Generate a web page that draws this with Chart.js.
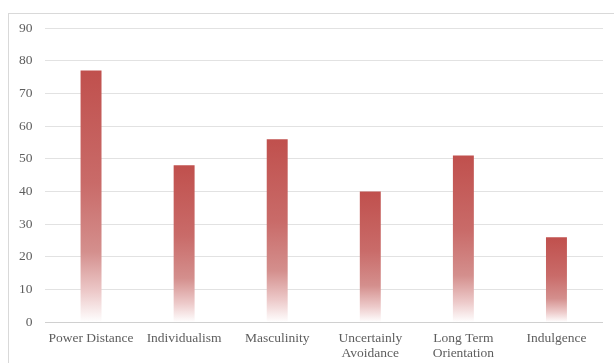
<!DOCTYPE html>
<html>
<head>
<meta charset="utf-8">
<script src="https://cdn.jsdelivr.net/npm/chart.js@4/dist/chart.umd.min.js"></script>
<style>
  html, body { margin: 0; padding: 0; background: #fff; overflow: hidden; }
  #wrap { position: relative; width: 614px; height: 363px; overflow: hidden; }
</style>
</head>
<body>
<div id="wrap"><canvas id="c" width="614" height="370"></canvas></div>
<script>
const categories = [
  'Power Distance',
  'Individualism',
  'Masculinity',
  ['Uncertainly', 'Avoidance'],
  ['Long Term', 'Orientation'],
  'Indulgence'
];
const scores = [77, 48, 56, 40, 51, 26];
const yTicks = [0, 10, 20, 30, 40, 50, 60, 70, 80, 90];

// Vertical fade from deep red at the bar top to white at its base
function barFill(ctx) {
  const chart = ctx.chart;
  const y = chart.scales.y;
  if (!y || ctx.type !== 'data') return '#C0504D';
  const top = y.getPixelForValue(ctx.raw);
  const base = y.getPixelForValue(0);
  if (!isFinite(top) || !isFinite(base) || top === base) return '#C0504D';
  const g = chart.ctx.createLinearGradient(0, top, 0, base);
  g.addColorStop(0, '#C0504D');
  g.addColorStop(0.45, '#C96B69');
  g.addColorStop(0.72, '#D48F8D');
  g.addColorStop(0.88, '#EDCACA');
  g.addColorStop(1, '#FFFFFF');
  return g;
}

// Thin frame around the chart area
const frame = {
  id: 'frame',
  beforeDraw(chart) {
    const c = chart.ctx;
    c.save();
    c.strokeStyle = '#D9D9D9';
    c.lineWidth = 1;
    c.strokeRect(8.5, 13.5, 640, 400);
    c.restore();
  }
};

new Chart(document.getElementById('c'), {
  type: 'bar',
  data: {
    labels: categories,
    datasets: [{
      data: scores,
      backgroundColor: barFill,
      borderWidth: 0,
      barPercentage: 0.225,
      categoryPercentage: 1
    }]
  },
  options: {
    responsive: false,
    animation: false,
    events: [],
    layout: { padding: { left: 7, right: 11, top: 28, bottom: 0 } },
    plugins: { legend: { display: false }, tooltip: { enabled: false } },
    scales: {
      x: {
        grid: { display: false, drawTicks: false },
        border: { display: false },
        ticks: {
          color: '#5E5E5E',
          font: { family: 'Liberation Serif', size: 13.5, lineHeight: 1.1 },
          padding: 9,
          maxRotation: 0,
          autoSkip: false
        }
      },
      y: {
        min: 0,
        max: 90,
        afterBuildTicks(axis) { axis.ticks = yTicks.map(v => ({ value: v })); },
        grid: {
          color: ctx => ctx.tick && ctx.tick.value === 0 ? '#D0D0D0' : '#E2E2E2',
          lineWidth: 1,
          drawTicks: false
        },
        border: { display: false },
        ticks: {
          color: '#5E5E5E',
          font: { family: 'Liberation Serif', size: 13.5 },
          padding: 12
        }
      }
    }
  },
  plugins: [frame]
});
</script>
</body>
</html>
